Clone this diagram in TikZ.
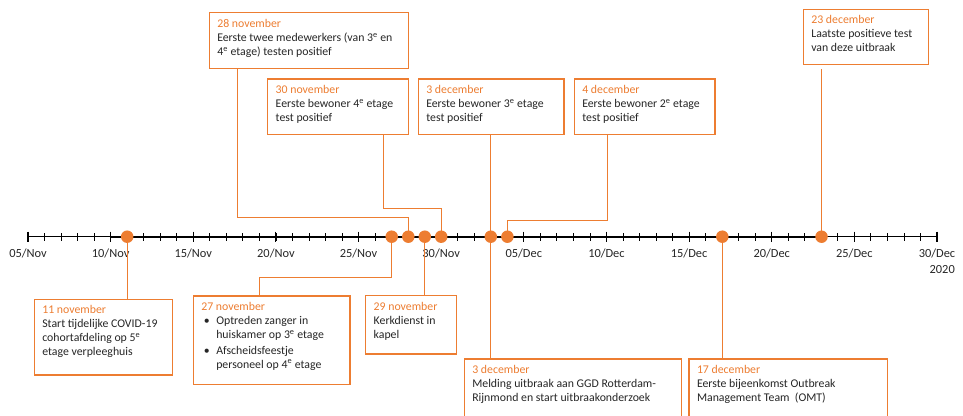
\documentclass[tikz,border=0pt]{standalone}
\usepackage{fontspec}
\setmainfont{Carlito}
\usetikzlibrary{calc}
\definecolor{org}{HTML}{ED7D31}
\definecolor{txt}{HTML}{262626}
\newcommand\ee{\textsuperscript{e}}
\newcommand\evbox[6]{%
  \node[evbox, minimum width=#4pt, minimum height=#5pt] (#1) at (#2,#3)
    {\begin{minipage}[c][\dimexpr#5pt-13pt\relax][t]{\dimexpr#4pt-16pt\relax}\raggedright#6\end{minipage}};}
\newcommand\evt[1]{{\color{org}#1}\\}
\newcommand\bul{\makebox[15pt][l]{\hspace{2.6pt}\textbullet}}
\tikzset{
  evbox/.style={draw=org, line width=1.3pt, fill=white, anchor=north west,
    inner xsep=8pt, inner ysep=6.5pt, outer sep=0pt,
    font=\fontsize{11.8}{14}\selectfont, text=txt},
  conn/.style={draw=org, line width=1.2pt},
  evdot/.style={circle, fill=org, minimum size=12.5pt, inner sep=0pt},
  axlab/.style={font=\fontsize{12.4}{14}\selectfont, text=txt, anchor=base, inner sep=0pt}
}
\begin{document}
\begin{tikzpicture}[x=1pt,y=-1pt]
\useasboundingbox (0,0) rectangle (963,415);
\clip (0,0) rectangle (963,415);
% axis
\draw[line width=1pt] (28,236.7) -- (937,236.7);
\draw[line width=2.2pt] (111,236.7) -- (821.4,236.7);
\foreach \i in {0,...,55} {
  \draw[line width=0.8pt] ({28+\i*16.527},233) -- ({28+\i*16.527},240.5);
}
\foreach \i in {0,5,...,55} {
  \draw[line width=1.1pt] ({28+\i*16.527},231.5) -- ({28+\i*16.527},242);
}
\foreach \lab [count=\k from 0] in {05/Nov,10/Nov,15/Nov,20/Nov,25/Nov,30/Nov,05/Dec,10/Dec,15/Dec,20/Dec,25/Dec,30/Dec} {
  \node[axlab] (lab\k) at ({28+5*\k*16.527},257.5) {\lab};
}
\node[axlab, anchor=base east] (year) at (955,273.5) {2020};
% boxes top
\evbox{t28}{209.3}{12.7}{199}{55.6}{\evt{28 november}Eerste twee medewerkers (van 3\ee{} en\\4\ee{} etage) testen positief}
\evbox{t30}{267.7}{79}{140.6}{55.3}{\evt{30 november}Eerste bewoner 4\ee{} etage\\test positief}
\evbox{t3}{418.3}{79}{145.7}{55.3}{\evt{3 december}Eerste bewoner 3\ee{} etage\\test positief}
\evbox{t4}{574.3}{79}{140.7}{55.3}{\evt{4 december}Eerste bewoner 2\ee{} etage\\test positief}
\evbox{t23}{803.3}{9.3}{125}{55}{\evt{23 december}Laatste positieve test\\van deze uitbraak}
% boxes bottom
\evbox{b11}{34.3}{299.3}{138.4}{75.7}{\evt{11 november}Start tijdelijke COVID-19\\cohortafdeling op 5\ee\\etage verpleeghuis}
\evbox{b27}{193.3}{296}{156.7}{88.3}{\evt{27 november}\bul Optreden zanger in\\\hspace*{15pt}huiskamer op 3\ee{} etage\\[1.5pt]\bul Afscheidsfeestje\\\hspace*{15pt}personeel op 4\ee{} etage}
\evbox{b29}{365.7}{295.7}{91}{58.3}{\evt{29 november}Kerkdienst in\\kapel}
\evbox{b3}{464.3}{359}{217.2}{64}{\evt{3 december}Melding uitbraak aan GGD Rotterdam-\\Rijnmond en start uitbraakonderzoek}
\evbox{b17}{689}{359}{198.7}{64}{\evt{17 december}Eerste bijeenkomst Outbreak\\Management Team\ \ (OMT)}
% dot positions
\coordinate (p11) at (127.2,236.7);
\coordinate (p27) at (391.7,236.7);
\coordinate (p28) at (408.3,236.7);
\coordinate (p29) at (424.8,236.7);
\coordinate (p30) at (441.2,236.7);
\coordinate (p3) at (490.8,236.7);
\coordinate (p4) at (507.4,236.7);
\coordinate (p17) at (722.3,236.7);
\coordinate (p23) at (821.5,236.7);
% connectors
\draw[conn] (p11) -- (p11 |- b11.north);
\draw[conn] (p27) -- ++(0,40.6) -| ([xshift=66]b27.north west);
\draw[conn] ([xshift=28.4]t28.south west) -- ++(0,149.4) -| (p28);
\draw[conn] (p29) -- (p29 |- b29.north);
\draw[conn] ([xshift=115.6]t30.south west) -- ++(0,74) -| (p30);
\draw[conn] (p3 |- t3.south) -- (p3 |- b3.north);
\draw[conn] ([xshift=33]t4.south west) -- ++(0,86.4) -| (p4);
\draw[conn] (p17) -- (p17 |- b17.north);
\draw[conn, shorten <=4.5pt] (p23 |- t23.south) -- (p23);
% dots
\foreach \d in {11,27,28,29,30,3,4,17,23} {
  \node[evdot] (d\d) at (p\d) {};
}
\end{tikzpicture}
\end{document}
